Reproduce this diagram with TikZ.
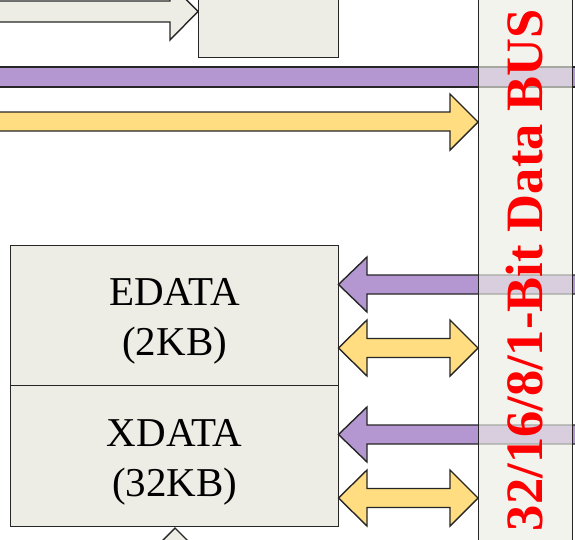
\documentclass[tikz,border=0pt]{standalone}
\usepackage{fontspec}
\setmainfont{Liberation Serif}
\definecolor{boxfill}{RGB}{237,237,229}
\definecolor{purp}{RGB}{180,151,208}
\definecolor{yell}{RGB}{255,221,128}
\definecolor{busred}{RGB}{255,0,0}
\begin{document}
\begin{tikzpicture}[x=1pt,y=-1pt,
  blk/.style={draw=black!85,line width=1.4pt,fill=boxfill},
  parr/.style={draw=black!85,line width=1.4pt,fill=purp,line join=miter},
  yarr/.style={draw=black!85,line width=1.4pt,fill=yell,line join=miter},
  garr/.style={draw=black!85,line width=1.4pt,fill=boxfill,line join=miter},
  memtxt/.style={font=\fontsize{41}{50}\selectfont,align=center,text=black}]
\useasboundingbox (0,0) rectangle (575,539);
\begin{scope}
\clip (0,0) rectangle (575,539);
% top grey arrow into top box
\draw[garr] (-5,1) -- (170,1) -- (170,-17) -- (198,11.5) -- (170,40) -- (170,22) -- (-5,22) -- cycle;
% top box
\node[blk,minimum width=140pt,minimum height=70pt,anchor=south west,inner sep=0pt] (top) at (198,58) {};
% purple bus line
\draw[parr] (-5,67) rectangle (580,87);
% yellow arrow into bus
\draw[yarr] (-5,112) -- (450,112) -- (450,94) -- (478,122) -- (450,150) -- (450,131) -- (-5,131) -- cycle;
% memory boxes
\node[blk,minimum width=328pt,minimum height=140pt,anchor=north west,inner sep=0pt] (edata) at (10,245) {};
\node[blk,minimum width=328pt,minimum height=141pt,anchor=north west,inner sep=0pt] (xdata) at (10,385) {};
\node[memtxt] at ([yshift=-6pt]edata.center) {EDATA\\(2KB)};
\node[memtxt] at ([yshift=-6pt]xdata.center) {XDATA\\(32KB)};
% bottom grey arrow tip
\draw[garr] (150,553) -- (175,528) -- (200,553);
% purple arrows to EDATA / XDATA
\foreach \c in {284.5,434.5}{
  \draw[parr] (580,\c-9.5) -- (367,\c-9.5) -- (367,\c-27.5) -- (338.5,\c) -- (367,\c+27.5) -- (367,\c+9.5) -- (580,\c+9.5) -- cycle;
}
% yellow double arrows
\foreach \c in {348,498}{
  \draw[yarr] (338.5,\c) -- (367,\c-28) -- (367,\c-9.5) -- (450,\c-9.5) -- (450,\c-28) -- (478,\c) -- (450,\c+28) -- (450,\c+9.5) -- (367,\c+9.5) -- (367,\c+28) -- cycle;
}
% data bus column
\node[draw=black!85,line width=1.4pt,fill=boxfill,fill opacity=0.65,minimum width=94pt,minimum height=560pt,anchor=north west,inner sep=0pt] (bus) at (478,-10) {};
\node[rotate=90,text=busred,font=\fontsize{52.5}{52.5}\selectfont\bfseries,inner sep=0pt] (bustxt) at (525,270) {32/16/8/1-Bit Data BUS};
\end{scope}
\end{tikzpicture}
\end{document}
